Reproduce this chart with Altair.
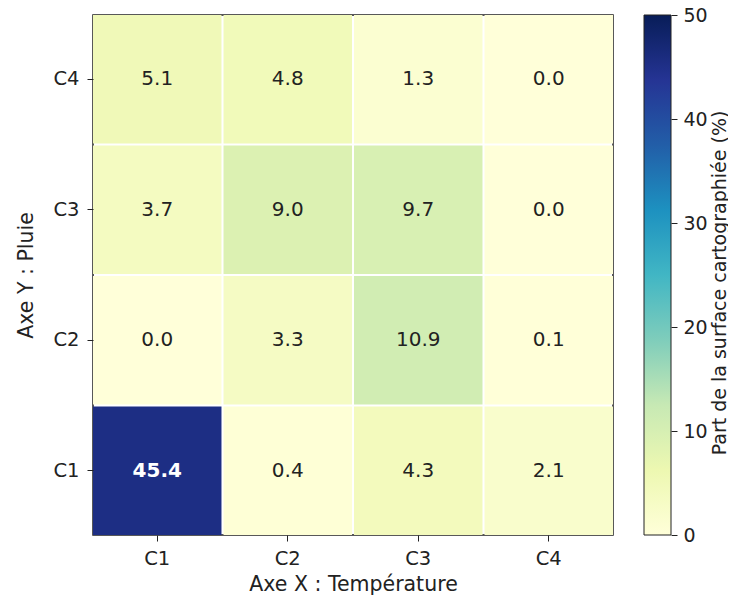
import altair as alt
import pandas as pd

x_cats = ["C1", "C2", "C3", "C4"]
y_cats = ["C4", "C3", "C2", "C1"]  # top to bottom
row_C4 = [5.1, 4.8, 1.3, 0.0]
row_C3 = [3.7, 9.0, 9.7, 0.0]
row_C2 = [0.0, 3.3, 10.9, 0.1]
row_C1 = [45.4, 0.4, 4.3, 2.1]
rows = {"C4": row_C4, "C3": row_C3, "C2": row_C2, "C1": row_C1}
cbar_ticks = [0, 10, 20, 30, 40, 50]
cbar_title = "Part de la surface cartographiée (%)"

# YlGnBu colour stops (style)
ylgnbu = ["#ffffd9", "#edf8b1", "#c7e9b4", "#7fcdbb", "#41b6c4",
          "#1d91c0", "#225ea8", "#253494", "#081d58"]
color_stops = [0, 6.25, 12.5, 18.75, 25, 31.25, 37.5, 43.75, 50]

records = []
for yc in y_cats:
    for xc, v in zip(x_cats, rows[yc]):
        records.append({"x": xc, "y": yc, "v": v, "label": f"{v:.1f}"})
df = pd.DataFrame(records)

FONT = "DejaVu Sans"
LFS = 19.5   # tick labels
TFS = 20.5   # axis titles
CFS = 20     # cell annotations
BFS = 19     # colorbar labels / title
TXT = "#222222"
PAD_IN = 0.0155

base = alt.Chart(df).encode(
    x=alt.X("x:N", sort=x_cats, title="Axe X : Température",
            scale=alt.Scale(paddingInner=PAD_IN, paddingOuter=0),
            axis=alt.Axis(labelAngle=0, tickSize=6, labelPadding=8, titlePadding=7,
                          domain=False, tickColor=TXT)),
    y=alt.Y("y:N", sort=y_cats, title="Axe Y : Pluie",
            scale=alt.Scale(paddingInner=PAD_IN, paddingOuter=0),
            axis=alt.Axis(tickSize=6, labelPadding=8, titlePadding=16,
                          domain=False, tickColor=TXT)),
)

rects = base.mark_rect().encode(
    color=alt.Color("v:Q",
                    scale=alt.Scale(domain=color_stops, range=ylgnbu, interpolate="rgb"),
                    legend=None),
)

texts_dark = base.mark_text(fontSize=CFS, font=FONT, color=TXT).encode(
    text="label:N",
).transform_filter("datum.v <= 25")

texts_light = base.mark_text(fontSize=CFS, font=FONT, color="white", fontWeight="bold").encode(
    text="label:N",
).transform_filter("datum.v > 25")

heat = alt.layer(rects, texts_dark, texts_light)

grad = alt.Gradient(
    gradient="linear",
    stops=[alt.GradientStop(offset=i / (len(ylgnbu) - 1), color=c) for i, c in enumerate(ylgnbu)],
    x1=0, x2=0, y1=1, y2=0,
)

cbar = alt.Chart(pd.DataFrame({"k": [0]})).mark_rect(
    fill=grad, stroke=TXT, strokeWidth=1
).encode(
    x=alt.value(551), x2=alt.value(578),
    y=alt.YDatum(cbar_ticks[0], type="quantitative",
                 scale=alt.Scale(domain=[cbar_ticks[0], cbar_ticks[-1]], nice=False, zero=False),
                 title=None,
                 axis=alt.Axis(orient="right", offset=58, values=cbar_ticks, tickSize=6,
                               labelPadding=6, domain=False, tickColor=TXT, grid=False,
                               labelFontSize=BFS, title=None)),
    y2=alt.Y2Datum(cbar_ticks[-1]),
)

cbar_label = alt.Chart(pd.DataFrame({"t": [cbar_title]})).mark_text(
    fontSize=BFS, font=FONT, color=TXT, angle=270, align="center", baseline="middle"
).encode(text="t:N", x=alt.value(626.5), y=alt.value(268))

chart = alt.layer(heat, cbar, cbar_label).resolve_scale(
    y="independent"
).properties(
    width=520, height=520,
    autosize=alt.AutoSizeParams(type="none"),
    padding={"left": 85, "top": 7, "right": 115, "bottom": 62},
).configure_view(
    stroke=TXT, strokeWidth=1.5
).configure_axis(
    labelFont=FONT, titleFont=FONT, labelFontSize=LFS, titleFontSize=TFS,
    titleFontWeight="normal", labelColor=TXT, titleColor=TXT, grid=False,
)

chart.save("out.html", embed_options={"renderer": "svg", "actions": False})
